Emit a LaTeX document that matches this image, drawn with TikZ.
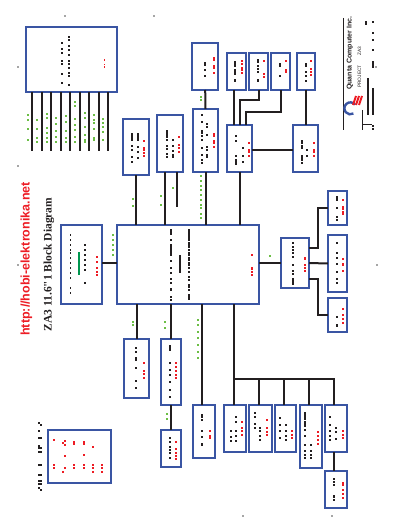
\documentclass[tikz,border=0pt]{standalone}
\usepackage{fontspec}
\setmainfont{Liberation Sans}
\newfontfamily\serifbold{Liberation Serif}
\definecolor{bluebox}{HTML}{3A55A3}
\definecolor{ink}{HTML}{231F20}
\definecolor{redtxt}{HTML}{ED1C24}
\definecolor{greentxt}{HTML}{6CBE45}
\definecolor{darkgreen}{HTML}{00964F}
\newcommand\spkcol[3]{\foreach \yy in {#3} \fill[#1] (#2-.6,\yy-.6) rectangle (#2+.6,\yy+.6);}
\newcommand\spkbar[5]{\fill[#1] (#2-#5/2,#3) rectangle (#2+#5/2,#4);}
\tikzset{
  blk/.style={draw=bluebox,line width=2pt,inner sep=0pt,outer sep=0pt,fill=white},
  wire/.style={draw=ink,line width=2pt},
  pin/.style={draw=ink,line width=1.8pt},
}
\begin{document}
\begin{tikzpicture}[x=1pt,y=-1pt]
\useasboundingbox (0,0) rectangle (400,518);
% blocks: position = centre, size = width x height
\node[blk,minimum width=91pt,minimum height=65pt] (conn) at (71.5,59.5) {};
\node[blk,minimum width=25.5pt,minimum height=56.5pt] (t1) at (136.2,146.8) {};
\node[blk,minimum width=25.5pt,minimum height=57pt] (t2) at (170.2,143.5) {};
\node[blk,minimum width=25.5pt,minimum height=47pt] (t3a) at (205.2,66.5) {};
\node[blk,minimum width=25pt,minimum height=63pt] (t3) at (205.5,140.5) {};
\node[blk,minimum width=19pt,minimum height=37pt] (c) at (236.5,71.5) {};
\node[blk,minimum width=19pt,minimum height=37pt] (d) at (258.5,71.5) {};
\node[blk,minimum width=19pt,minimum height=37pt] (e) at (280.5,71.5) {};
\node[blk,minimum width=18.5pt,minimum height=37pt] (f) at (306,71.5) {};
\node[blk,minimum width=25pt,minimum height=47pt] (g) at (239.5,148.5) {};
\node[blk,minimum width=25pt,minimum height=47pt] (h) at (305.5,148.5) {};
\node[blk,minimum width=142pt,minimum height=79pt] (main) at (188,264.5) {};
\node[blk,minimum width=41pt,minimum height=79pt] (left) at (81.5,264.5) {};
\node[blk,minimum width=28pt,minimum height=50pt] (m) at (295,263) {};
\node[blk,minimum width=19.5pt,minimum height=34pt] (n) at (337.7,208) {};
\node[blk,minimum width=19.5pt,minimum height=57pt] (o) at (337.7,263.5) {};
\node[blk,minimum width=19.5pt,minimum height=34pt] (p) at (337.7,315) {};
\node[blk,minimum width=25pt,minimum height=59pt] (i) at (136.5,368.5) {};
\node[blk,minimum width=20pt,minimum height=66pt] (j) at (170.5,372) {};
\node[blk,minimum width=20pt,minimum height=37pt] (k) at (170.5,448.5) {};
\node[blk,minimum width=22pt,minimum height=53pt] (l) at (204,431.5) {};
\node[blk,minimum width=22pt,minimum height=47pt] (b1) at (235,428.5) {};
\node[blk,minimum width=23pt,minimum height=47pt] (b2) at (260.5,428.5) {};
\node[blk,minimum width=21pt,minimum height=47pt] (b3) at (285.5,428.5) {};
\node[blk,minimum width=22pt,minimum height=63pt] (b4) at (311,436.5) {};
\node[blk,minimum width=22pt,minimum height=47pt] (b5) at (336,428.5) {};
\node[blk,minimum width=22pt,minimum height=37pt] (b6) at (336,489.5) {};
\node[blk,minimum width=63pt,minimum height=53pt] (memo) at (79.5,456.5) {};
% connectors
\foreach \px in {-39.5,-29.5,-20.5,-10.5,-1.5,8.5,17.5,27.5,36.5}
  \draw[pin] ([xshift=\px pt]conn.south) -- ++(0,59);
\draw[wire] (t1.south) -- (t1.south |- main.north);
\draw[wire] ([xshift=-5pt]t2.south) -- ([xshift=-5pt]t2.south |- main.north);
\draw[wire] ([xshift=7pt]t2.south) -- ++(0,35);
\draw[wire] (t3a.south) -- (t3.north);
\draw[wire] (t3.south) -- (t3.south |- main.north);
\draw[wire] ([xshift=-2.5pt]c.south) -- ([xshift=-2.5pt]c.south |- g.north);
\draw[wire] (d.south) -- ++(0,10) -| (g.north);
\draw[wire] (e.south) -- ++(0,22) -| ([xshift=6.5pt]g.north);
\draw[wire] (f.south) -- (f.south |- h.north);
\draw[wire] (h.west |- 0,150) -- (g.east |- 0,150);
\draw[wire] (g.south) -- (g.south |- main.north);
\draw[wire] ([yshift=1.5pt]left.east) -- ([yshift=1.5pt]main.west);
\draw[wire] ([yshift=1.5pt]main.east) -- (m.west);
\draw[wire] (m.east) -- (o.west);
\draw[wire] ([yshift=15pt]m.east) -- ++(9,0) |- (n.west);
\draw[wire] ([yshift=-16pt]m.east) -- ++(9,0) |- (p.west);
\draw[wire] (i.north) -- (i.north |- main.south);
\draw[wire] (j.north) -- (j.north |- main.south);
\draw[wire] (j.south) -- (k.north);
\draw[wire] ([xshift=-2pt]l.north) -- ([xshift=-2pt]l.north |- main.south);
\draw[wire] ([xshift=-1pt]b1.north) -- ([xshift=-1pt]b1.north |- main.south);
\coordinate (bus) at (234,379);
\draw[draw=ink,line width=1.2pt] (bus) -| ([xshift=-2pt]b5.north);
\draw[wire] ([xshift=-1.5pt]b2.north) -- ++(0,-26);
\draw[wire] ([xshift=-1.5pt]b3.north) -- ++(0,-26);
\draw[wire] ([xshift=-2pt]b4.north) -- ++(0,-26);
\draw[wire] ([xshift=-2pt]b5.south) -- ([xshift=-2pt]b6.north);
% free text
\node[rotate=90,text=redtxt,font=\bfseries\fontsize{12.5}{14}\selectfont,inner sep=0pt] (url) at (26.5,259) {http://hobi-elektronika.net};
\node[rotate=90,text=ink,font=\serifbold\bfseries\fontsize{11.5}{13}\selectfont,inner sep=0pt] (title) at (49,264.5) {ZA3 11.6"1 Block Diagram};
\node[rotate=90,anchor=west,text=ink,font=\bfseries\fontsize{7}{8}\selectfont,inner sep=0pt] (quanta) at (350,90) {Quanta Computer Inc.};
\node[rotate=90,anchor=west,text=ink,font=\fontsize{4.8}{5}\selectfont,inner sep=0pt] (proj) at (359.5,88) {PROJECT\hspace{10pt}ZA3};
% title block
\draw[ink,line width=.8pt] (343.5,18) -- (343.5,130);
\draw[ink,line width=.6pt] (362,110) -- (362,130) (362,124) -- (372,124);
\draw[bluebox,line width=2.4pt] (355,104.5) arc[start angle=-40,end angle=-300,radius=6];
\foreach \yy in {97,100,103} \draw[redtxt,line width=2pt] (\yy+259,96) -- (\yy+256,105);
\spkbar{ink}{368}{78}{115}{2.4}
\spkbar{ink}{373}{88}{115}{2.6}
\spkbar{ink}{373}{61}{68}{2.4}
\spkcol{ink}{373}{22,33,40,50}
\spkcol{ink}{366}{22,24}
\spkcol{ink}{373}{126,129}
% specks that stand for the unreadably small labels
\spkcol{ink}{62}{43,49,53,61,64,74,83}
\spkcol{ink}{69}{37,40,46,50,55,61,64,68,73,76,85}
\spkcol{redtxt}{104.5}{60,64.5,67}
\spkcol{greentxt}{28}{115,120,129,140}
\spkcol{greentxt}{37}{120,129,138,142}
\spkcol{greentxt}{47}{114,118,128,133,138,142}
\spkcol{greentxt}{56}{118,124,131,137,142}
\spkcol{greentxt}{66}{116,122,131,138,142}
\spkcol{greentxt}{75}{102,106,119,125,130,137,142}
\spkcol{greentxt}{85}{113,118,127,135,140,142}
\spkcol{greentxt}{94}{115,120,123,129,138,140}
\spkcol{greentxt}{103}{119,123,127,132,140}
\spkcol{ink}{132}{134,136,138,140,146,150,157,162}
\spkcol{ink}{138}{134,136,138,140,147,152,158}
\spkcol{redtxt}{144}{141,148,150,153,156}
\spkbar{ink}{167}{130}{138}{2}
\spkcol{ink}{167}{140,146,149,154,157}
\spkcol{ink}{173}{140,146,151,155,157}
\spkcol{redtxt}{179}{137,145,148,152}
\spkcol{ink}{202}{115,122,131,133,136,140,148,155,160,163}
\spkcol{ink}{207}{124,127,135,147,150,155,157}
\spkcol{redtxt}{214}{134,136,141,143,147}
\spkcol{ink}{205}{63,65,70,76}
\spkcol{redtxt}{214}{58,60,66,68,73}
\spkcol{greentxt}{201}{97,100}
\spkcol{greentxt}{201}{176,181,186,190,195,200,205,208,214,218}
\spkcol{greentxt}{133}{199,206}
\spkcol{greentxt}{161}{196,205}
\spkcol{greentxt}{173}{188}
\spkcol{ink}{235}{62,64,66,70,72,74,80,81}
\spkcol{redtxt}{242}{61,64,68,70,73}
\spkcol{ink}{258}{60,62,66,69,72,80,81}
\spkcol{redtxt}{264}{61,74,77}
\spkcol{ink}{280}{64,66,76}
\spkcol{redtxt}{286}{61,70,72}
\spkcol{ink}{306}{64,66,72,76,81}
\spkcol{redtxt}{311}{61,69,72,75}
\spkcol{ink}{236}{136,141,156,160,162,164}
\spkcol{ink}{243}{148,156,162}
\spkcol{redtxt}{249}{143,150,152,156}
\spkbar{ink}{302}{140}{144}{2.4}
\spkcol{ink}{302}{146,148,156,158,160,163}
\spkcol{ink}{307}{150,156}
\spkcol{redtxt}{314}{143,150,152,156}
% main block
\spkcol{ink}{171}{230,232,234,240,245,247,249,251,253,255,261,268,273,279,283,289,290,297,300}
\spkcol{ink}{180}{256,258,260,262,264,266,268,270,272}
\spkcol{ink}{189}{230,232,234,236,238,240,243,245,247,250,253,255,258,260,263,265,268,272,277,280,285,287,290,295,297,299}
\spkcol{redtxt}{252}{255,268,269,272,275}
\spkcol{greentxt}{113}{235,240,245,250,255}
% left block
\spkcol{ink}{70.5}{235,240,245,250,253,258,263,268,273,278,288,293}
\spkbar{darkgreen}{79}{252}{275}{1.6}
\spkcol{ink}{85}{245,250,255,260,265,270,283}
\spkcol{redtxt}{97}{257,262,268,272,275}
% right branch
\spkcol{ink}{293}{243,247,250,253,257,265,271,274,279,281,283,284}
\spkbar{redtxt}{305}{257}{260}{1.5}
\spkcol{redtxt}{305}{265,268,271}
\spkcol{greentxt}{270}{256}
\spkcol{ink}{337}{197,199,200,208,217,220}
\spkcol{redtxt}{343}{200,207,209,212,214}
\spkcol{ink}{337}{243,253,258,264,272,279,283}
\spkcol{redtxt}{343}{259,264,265,271}
\spkcol{ink}{337}{317,325,326}
\spkcol{redtxt}{343}{309,315,319,323}
% lower blocks
\spkcol{ink}{136}{348,352,358,360,368,381,388}
\spkcol{redtxt}{144}{363,371,374,378}
\spkcol{ink}{170}{346,348,350,363,370,375,382,390,397}
\spkcol{redtxt}{176}{363,367,371,375,378}
\spkcol{ink}{170}{438,442,447,450,453,458}
\spkcol{redtxt}{176}{442,449,453,456,459}
\spkbar{ink}{202}{414}{418}{2}
\spkcol{ink}{202}{420,431,437,444,445}
\spkcol{redtxt}{210}{431,436,438}
\spkcol{greentxt}{167}{414,419}
\spkcol{greentxt}{198}{320,325,332,338,345,352,358}
\spkcol{greentxt}{133}{322,325}
\spkcol{greentxt}{165}{322,328}
\spkcol{ink}{236}{417,422,431,436,441}
\spkcol{ink}{231}{431,437,441}
\spkcol{redtxt}{242}{422,428,431,435}
\spkcol{ink}{255}{413,417,424,428}
\spkcol{ink}{260}{428,431,436,440}
\spkcol{redtxt}{267}{420,428,432,435}
\spkcol{ink}{280}{418,425,431,438}
\spkcol{ink}{286}{425,431,436,440}
\spkcol{redtxt}{292}{431,435,438}
\spkcol{ink}{305}{413,415,417,419,422,424,426,430,436,445,451,455,458}
\spkcol{ink}{311}{445,451,455,458}
\spkcol{redtxt}{318}{432,436,440,444}
\spkcol{ink}{330}{417,425,431,436,440}
\spkcol{ink}{336}{428,432,439}
\spkcol{redtxt}{343}{431,435,438}
\spkcol{ink}{334}{479,482,485,500}
\spkbar{ink}{334}{495}{498}{2}
\spkcol{redtxt}{343}{483,485,490,494,498}
% bottom-left block
\spkcol{redtxt}{54}{440,465,468}
\spkcol{redtxt}{65}{441,445,456,468}
\spkcol{redtxt}{74}{442,444,465,468}
\spkcol{redtxt}{84}{442,444,455,465,468}
\spkcol{redtxt}{93}{447,465,468,472}
\spkcol{redtxt}{102}{465,468,472}
\spkcol{redtxt}{63}{443,472}
\spkcol{ink}{39}{423,431,438,446,448,452,465,475,481,484,488}
\spkcol{ink}{41}{425,438,448,452,465,475,481,484,490}
% stray grey marks
\foreach \gx/\gy in {65/16,154/16,18/67,18/166,18/265,377/265,243/516,332/516,376/67}
  \fill[black!35] (\gx-1.2,\gy-.6) rectangle (\gx+1.2,\gy+.6);
\end{tikzpicture}
\end{document}
